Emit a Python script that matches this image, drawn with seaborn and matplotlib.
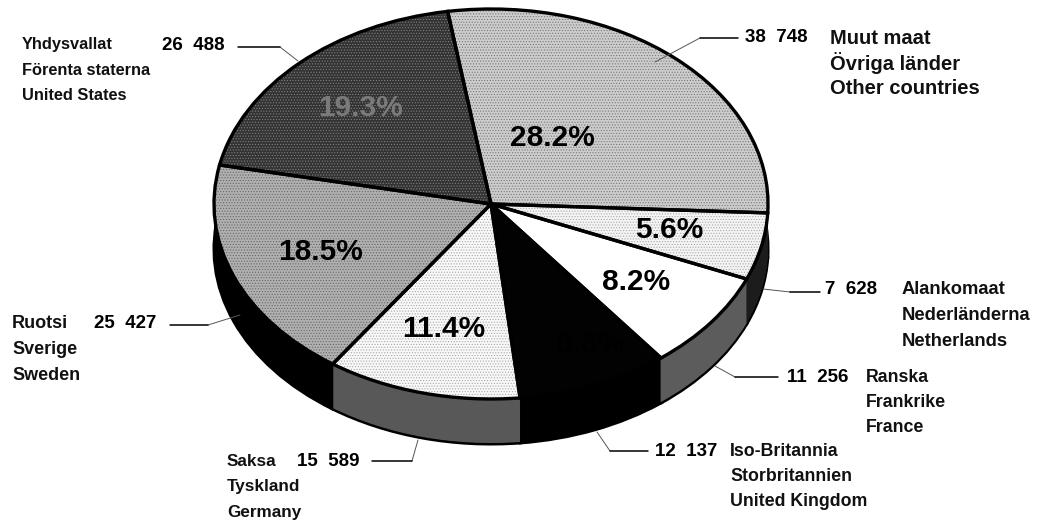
import matplotlib
matplotlib.use("Agg")
import matplotlib.pyplot as plt
import seaborn as sns
import numpy as np

values = [38748, 7628, 11256, 12137, 15589, 25427, 26488]
names_fi = ["Muut maat", "Alankomaat", "Ranska", "Iso-Britannia", "Saksa", "Ruotsi", "Yhdysvallat"]
names_sv = ["Övriga länder", "Nederländerna", "Frankrike", "Storbritannien", "Tyskland", "Sverige", "Förenta staterna"]
names_en = ["Other countries", "Netherlands", "France", "United Kingdom", "Germany", "Sweden", "United States"]
top_colors = ["#cdcdcd", "#f4f4f4", "#ffffff", "#020202", "#f8f8f8", "#b0b0b0", "#333333"]
wall_colors = ["#222222", "#1c1c1c", "#5c5c5c", "#000000", "#585858", "#000000", "#000000"]
pct_colors = ["#000000", "#000000", "#000000", "#000000", "#000000", "#000000", "#7a7a7a"]
# dither overlay of each top slice: dot colour (None = plain)
dither = ["#777777", "#aaaaaa", None, None, "#aaaaaa", "#666666", "#808080"]
label_sizes = [14.5, 13.2, 12.8, 12.8, 12.3, 13.0, 11.8]

# layout (pixels)
W, H = 1046, 520
CX, CY, RX, RY, DEPTH = 491, 204, 277, 195, 45
START = 99
pct_pos = [(552, 138), (669, 230), (636, 282), (590, 345), (444, 329), (321, 252), (360, 108)]
# fi x, number x, first-line y, second-line x
label_pos = [(830, 745, 38, 830), (902, 825, 290, 902), (866, 787, 377, 866),
             (730, 655, 451, 730), (227, 297, 461, 227), (12, 94, 324, 12), (22, 162, 45, 22)]
leaders = [[(655, 62), (700, 38), (738, 38)],
           [(763, 289), (790, 292), (820, 292)],
           [(715, 366), (735, 377), (778, 377)],
           [(597, 432), (610, 451), (648, 451)],
           [(418, 440), (412, 461), (372, 461)],
           [(240, 315), (208, 325), (170, 325)],
           [(298, 61), (280, 47), (238, 47)]]

sns.set_theme(style="white")
plt.rcParams["font.family"] = ["Liberation Sans", "DejaVu Sans"]
plt.rcParams["hatch.linewidth"] = 0.5
top_pal = sns.color_palette(top_colors)
wall_pal = sns.color_palette(wall_colors)

fig = plt.figure(figsize=(W / 100, H / 100), dpi=100, facecolor="white")
ax = fig.add_axes([0, 0, 1, 1])

# extruded side wall: stacked copies of the pie
for d in np.arange(DEPTH, 0, -1):
    lw = 2.2 if d == DEPTH else 0
    ax.pie(values, startangle=START, counterclock=False, colors=wall_pal,
           center=(0, -d / RY), radius=1,
           wedgeprops=dict(edgecolor="black", linewidth=lw))
# top face
ax.pie(values, startangle=START, counterclock=False, colors=top_pal,
       center=(0, 0), radius=1, wedgeprops=dict(linewidth=0))
# dither texture layer
tex, _ = ax.pie(values, startangle=START, counterclock=False, colors=["none"] * len(values),
                center=(0, 0), radius=1, wedgeprops=dict(linewidth=0))
for w, c in zip(tex, dither):
    if c is not None:
        w.set_hatch("......")
        w.set_edgecolor(c)
# outlines
ax.pie(values, startangle=START, counterclock=False, colors=["none"] * len(values),
       center=(0, 0), radius=1, wedgeprops=dict(edgecolor="black", linewidth=2.4))
ax.set_aspect("auto")
ax.set_xlim(-CX / RX, (W - CX) / RX)
ax.set_ylim((CY - H) / RY, CY / RY)
ax.axis("off")

ov = fig.add_axes([0, 0, 1, 1], facecolor="none")
ov.set_xlim(0, W)
ov.set_ylim(H, 0)
ov.axis("off")

total = sum(values)
for v, (x, y), c in zip(values, pct_pos, pct_colors):
    ov.text(x, y, f"{v / total * 100:.1f}%", ha="center", va="center",
            fontsize=21.5, fontweight="bold", color=c)

for v, fi, sv, en, (xf, xn, y, xs), pts, fs in zip(values, names_fi, names_sv, names_en,
                                                   label_pos, leaders, label_sizes):
    s = f"{v:,}".replace(",", "  ")
    ov.text(xn, y, s, ha="left", va="center", fontsize=13.5, fontweight="bold", color="black")
    ov.text(xf, y, fi, ha="left", va="center", fontsize=fs, fontweight="bold", color="#111111")
    ov.text(xs, y + 25.5, sv, ha="left", va="center", fontsize=fs, fontweight="bold", color="#111111")
    ov.text(xs, y + 51, en, ha="left", va="center", fontsize=fs, fontweight="bold", color="#111111")
    xs_l, ys_l = zip(*pts)
    ov.plot(xs_l[:2], ys_l[:2], color="#555555", lw=0.7)
    ov.plot(xs_l[1:], ys_l[1:], color="black", lw=1.1)

fig.savefig("out.png", dpi=100, facecolor="white")
